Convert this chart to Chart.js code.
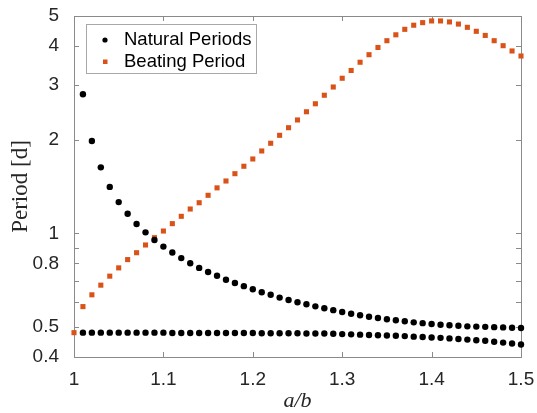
<!DOCTYPE html>
<html>
<head>
<meta charset="utf-8">
<title>Period vs a/b</title>
<script src="https://cdn.jsdelivr.net/npm/chart.js@4.4.1/dist/chart.umd.min.js"></script>
<style>
  html, body { margin: 0; padding: 0; background: #fff; }
  #wrap { width: 537px; height: 413px; position: relative; }
</style>
</head>
<body>
<div id="wrap"><canvas id="periodChart"></canvas></div>
<script>
// a/b ratio, 1.00 .. 1.50
const ratio = [
  1.00, 1.01, 1.02, 1.03, 1.04, 1.05, 1.06, 1.07, 1.08, 1.09,
  1.10, 1.11, 1.12, 1.13, 1.14, 1.15, 1.16, 1.17, 1.18, 1.19,
  1.20, 1.21, 1.22, 1.23, 1.24, 1.25, 1.26, 1.27, 1.28, 1.29,
  1.30, 1.31, 1.32, 1.33, 1.34, 1.35, 1.36, 1.37, 1.38, 1.39,
  1.40, 1.41, 1.42, 1.43, 1.44, 1.45, 1.46, 1.47, 1.48, 1.49,
  1.50,
];

// natural periods [d], from a/b = 1.01 onward (two branches)
const naturalUpper = [
  2.80, 1.98, 1.63, 1.41, 1.26, 1.156, 1.071, 1.007, 0.952,
  0.906, 0.867, 0.832, 0.801, 0.774, 0.751, 0.730, 0.709, 0.692, 0.676,
  0.661, 0.646, 0.634, 0.621, 0.610, 0.600, 0.591, 0.582, 0.574, 0.566,
  0.558, 0.551, 0.545, 0.539, 0.534, 0.529, 0.525, 0.521, 0.517, 0.514,
  0.511, 0.508, 0.506, 0.504, 0.502, 0.501, 0.500, 0.499, 0.498, 0.497,
  0.496,
];
const naturalLower = [
  0.479, 0.479, 0.479, 0.479, 0.479, 0.479, 0.479, 0.479, 0.479,
  0.479, 0.478, 0.478, 0.478, 0.478, 0.478, 0.478, 0.478, 0.478, 0.478,
  0.478, 0.477, 0.477, 0.477, 0.477, 0.477, 0.476, 0.476, 0.476, 0.475,
  0.474, 0.473, 0.472, 0.471, 0.470, 0.469, 0.468, 0.467, 0.465, 0.464,
  0.462, 0.461, 0.459, 0.457, 0.455, 0.453, 0.451, 0.448, 0.445, 0.442,
  0.439,
];

// beating period [d], a/b = 1.00 .. 1.50
const beating = [
  0.479, 0.581, 0.634, 0.681, 0.728, 0.774, 0.823, 0.866, 0.917, 0.968,
  1.017, 1.074, 1.134, 1.197, 1.254, 1.325, 1.40, 1.473, 1.555, 1.643,
  1.734, 1.84, 1.948, 2.066, 2.186, 2.315, 2.46, 2.61, 2.78, 2.955,
  3.153, 3.34, 3.55, 3.754, 3.96, 4.164, 4.35, 4.53, 4.67, 4.76,
  4.82, 4.82, 4.785, 4.71, 4.598, 4.464, 4.33, 4.164, 4.013, 3.859,
  3.718,
];

const xTicks = [1, 1.1, 1.2, 1.3, 1.4, 1.5];
const xTickLabels = ["1", "1.1", "1.2", "1.3", "1.4", "1.5"];
const yTicks = [0.4, 0.5, 0.6, 0.7, 0.8, 0.9, 1, 2, 3, 4, 5];
const yTickLabels = ["0.4", "0.5", "", "", "0.8", "", "1", "2", "3", "4", "5"];

const AXIS_GRAY = "#8a8a8a";
const TEXT_DARK = "#262626";
const ORANGE = "#d95319";
const SANS = "'Liberation Sans', Arial, Helvetica, sans-serif";
const SERIF = "'Liberation Serif', 'Times New Roman', serif";

const naturalPoints = [];
ratio.slice(1).forEach((r, i) => {
  naturalPoints.push({ x: r, y: naturalUpper[i] });
  naturalPoints.push({ x: r, y: naturalLower[i] });
});
const beatingPoints = ratio.map((r, i) => ({ x: r, y: beating[i] }));

// box around the plot area with inward tick marks on all four sides
const boxAxes = {
  id: "boxAxes",
  beforeDatasetsDraw(chart) {
    const { ctx, chartArea: a, scales } = chart;
    const len = 5;
    ctx.save();
    ctx.strokeStyle = AXIS_GRAY;
    ctx.lineWidth = 1;
    ctx.strokeRect(a.left + 0.5, a.top + 0.5, a.right - a.left, a.bottom - a.top);
    ctx.beginPath();
    xTicks.forEach((v) => {
      const px = Math.round(scales.x.getPixelForValue(v)) + 0.5;
      ctx.moveTo(px, a.bottom);
      ctx.lineTo(px, a.bottom - len);
      ctx.moveTo(px, a.top);
      ctx.lineTo(px, a.top + len);
    });
    yTicks.forEach((v) => {
      const py = Math.round(scales.y.getPixelForValue(v)) + 0.5;
      ctx.moveTo(a.left, py);
      ctx.lineTo(a.left + len, py);
      ctx.moveTo(a.right, py);
      ctx.lineTo(a.right - len, py);
    });
    ctx.stroke();
    ctx.restore();
  },
};

// legend box inside the top-left corner of the plot
const insideLegend = {
  id: "insideLegend",
  afterDraw(chart) {
    const { ctx } = chart;
    const box = { x: 86.5, y: 24.5, w: 170, h: 49 };
    ctx.save();
    ctx.fillStyle = "#fff";
    ctx.fillRect(box.x, box.y, box.w, box.h);
    ctx.strokeStyle = "#a8a8a8";
    ctx.lineWidth = 1;
    ctx.strokeRect(box.x, box.y, box.w, box.h);
    ctx.font = "18.5px " + SANS;
    ctx.textBaseline = "middle";
    chart.data.datasets.forEach((ds, i) => {
      const cy = 40 + i * 21.5;
      ctx.fillStyle = ds.backgroundColor;
      if (ds.pointStyle === "rect") {
        ctx.fillRect(103, cy - 2, 4.5, 4.5);
      } else {
        ctx.beginPath();
        ctx.arc(105, cy, 2.6, 0, Math.PI * 2);
        ctx.fill();
      }
      ctx.fillStyle = "#000";
      ctx.fillText(ds.label, 124, cy);
    });
    ctx.restore();
  },
};

const ctx = document.getElementById("periodChart").getContext("2d");
new Chart(ctx, {
  type: "scatter",
  data: {
    datasets: [
      {
        label: "Natural Periods",
        data: naturalPoints,
        pointStyle: "circle",
        pointRadius: 3.2,
        pointBorderWidth: 0,
        backgroundColor: "#000",
        borderColor: "#000",
        clip: false,
      },
      {
        label: "Beating Period",
        data: beatingPoints,
        pointStyle: "rect",
        pointRadius: 3.6,
        pointBorderWidth: 0,
        backgroundColor: ORANGE,
        borderColor: ORANGE,
        clip: false,
      },
    ],
  },
  options: {
    responsive: true,
    maintainAspectRatio: false,
    animation: false,
    events: [],
    layout: { padding: { left: 0, right: 16, top: 16, bottom: 0 } },
    plugins: {
      legend: { display: false },
      tooltip: { enabled: false },
    },
    scales: {
      x: {
        type: "linear",
        min: 1,
        max: 1.5,
        afterBuildTicks: (scale) => {
          scale.ticks = xTicks.map((v) => ({ value: v }));
        },
        afterFit: (scale) => {
          scale.height = 56;
          scale.paddingLeft = 0;
          scale.paddingRight = 0;
        },
        grid: { display: false },
        border: { display: false },
        ticks: {
          autoSkip: false,
          maxRotation: 0,
          padding: 3,
          color: TEXT_DARK,
          font: { family: SANS, size: 19 },
          callback: (value) => xTickLabels[xTicks.indexOf(value)] ?? "",
        },
        title: {
          display: true,
          text: "a/b",
          color: TEXT_DARK,
          font: { family: SERIF, size: 22, style: "italic", lineHeight: 1 },
          padding: { top: 0, bottom: 1 },
        },
      },
      y: {
        type: "logarithmic",
        min: 0.4,
        max: 5,
        afterBuildTicks: (scale) => {
          scale.ticks = yTicks.map((v) => ({ value: v }));
        },
        afterFit: (scale) => {
          scale.width = 74;
          scale.paddingTop = 0;
          scale.paddingBottom = 0;
        },
        grid: { display: false },
        border: { display: false },
        ticks: {
          autoSkip: false,
          padding: 7,
          color: TEXT_DARK,
          font: { family: SANS, size: 19 },
          callback: (value) => yTickLabels[yTicks.indexOf(value)] ?? "",
        },
        title: {
          display: true,
          text: "Period [d]",
          color: TEXT_DARK,
          font: { family: SERIF, size: 23, lineHeight: 1 },
          padding: { top: 9, bottom: 0 },
        },
      },
    },
  },
  plugins: [boxAxes, insideLegend],
});
</script>
</body>
</html>
